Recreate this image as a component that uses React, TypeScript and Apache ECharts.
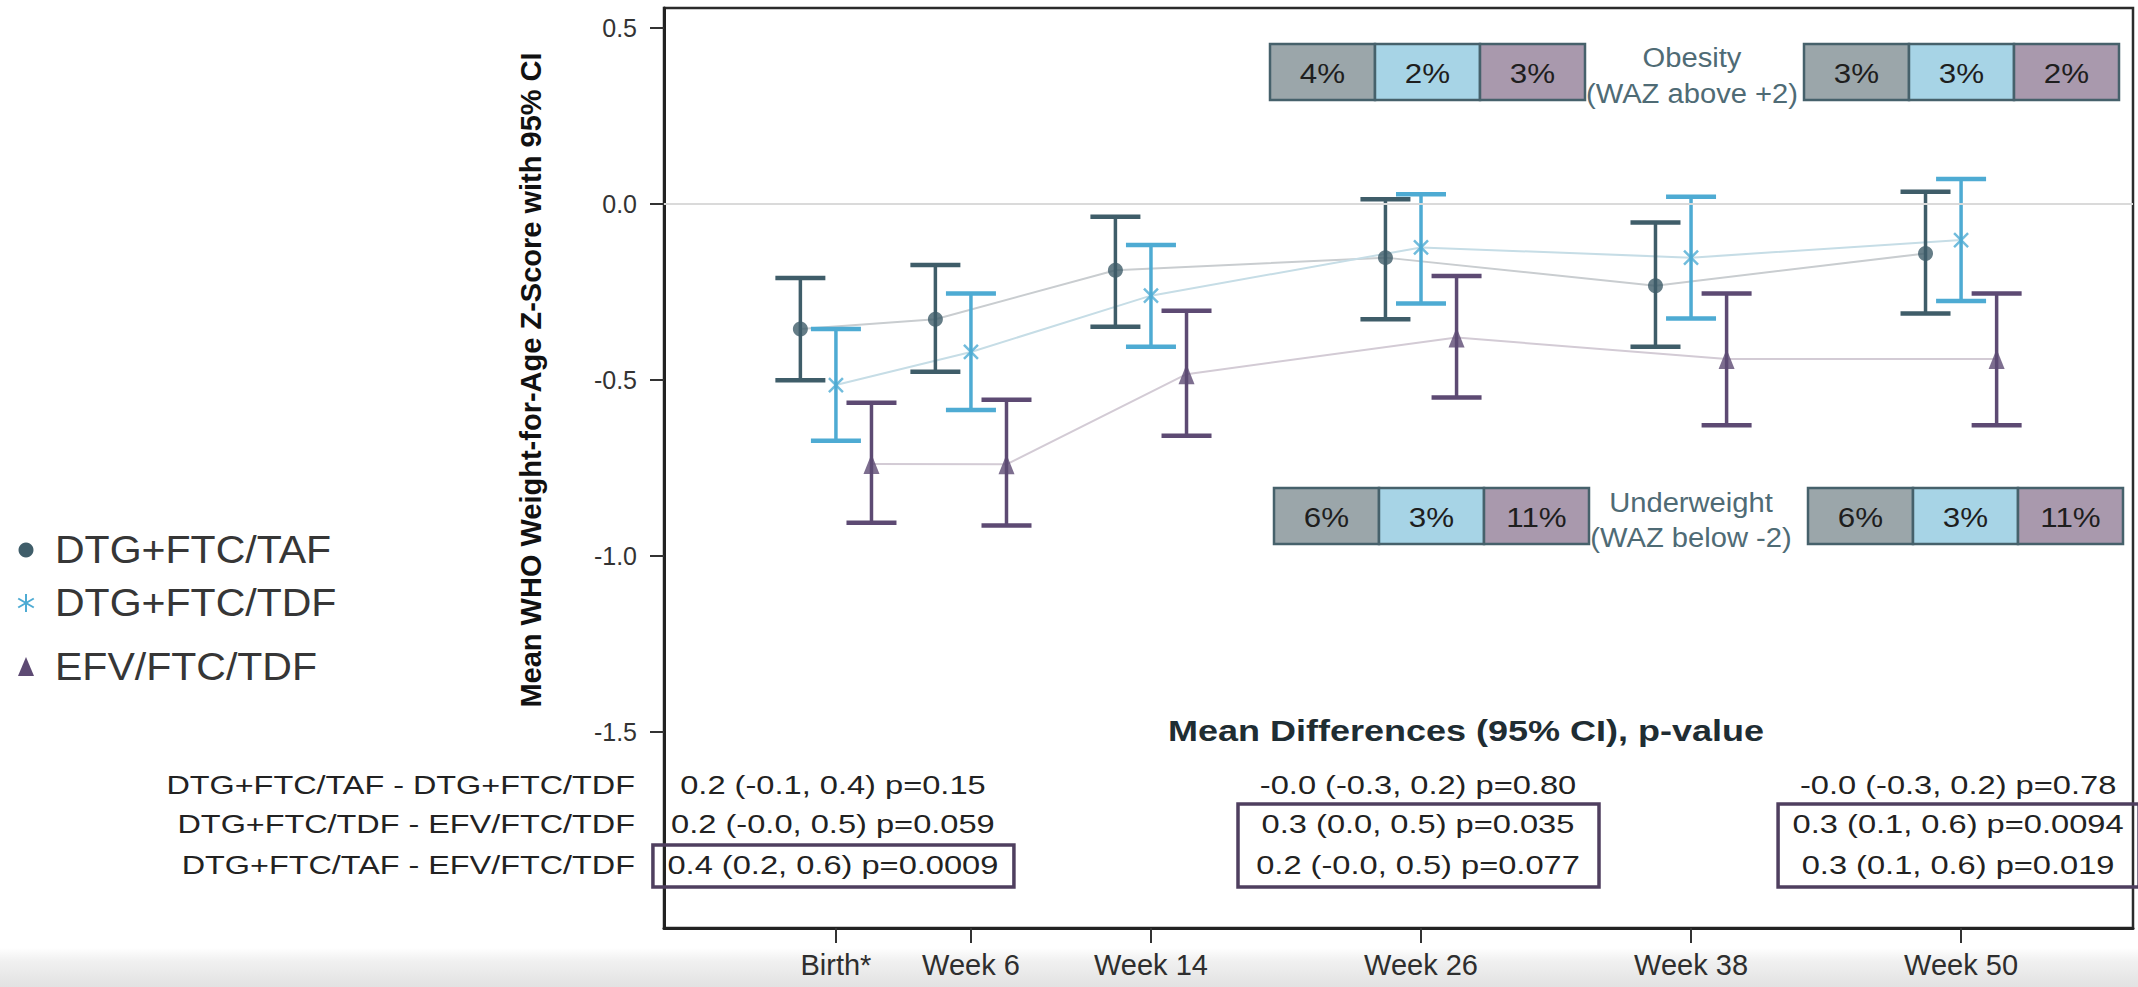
import React, { useEffect, useRef } from 'react';
import * as echarts from 'echarts';

// ---------------- data ----------------
const weeks = [0, 6, 14, 26, 38, 50];
const weekLabels = ['Birth*', 'Week 6', 'Week 14', 'Week 26', 'Week 38', 'Week 50'];
const seriesNames = ['DTG+FTC/TAF', 'DTG+FTC/TDF', 'EFV/FTC/TDF'];

const tafMean = [-0.355, -0.327, -0.188, -0.152, -0.232, -0.14];
const tafLower = [-0.5, -0.476, -0.348, -0.327, -0.405, -0.311];
const tafUpper = [-0.21, -0.173, -0.036, 0.014, -0.052, 0.035];

const tdfMean = [-0.514, -0.42, -0.26, -0.123, -0.152, -0.102];
const tdfLower = [-0.672, -0.585, -0.405, -0.282, -0.325, -0.275];
const tdfUpper = [-0.355, -0.254, -0.116, 0.028, 0.021, 0.071];

const efvMean = [-0.738, -0.739, -0.483, -0.379, -0.44, -0.44];
const efvLower = [-0.905, -0.913, -0.658, -0.549, -0.628, -0.628];
const efvUpper = [-0.564, -0.556, -0.303, -0.204, -0.254, -0.254];

const yTicks = [-1.5, -1.0, -0.5, 0, 0.5];

const obesityTitle = ['Obesity', '(WAZ above +2)'];
const obesityPct = [
  ['4%', '2%', '3%'],
  ['3%', '3%', '2%'],
];
const underweightTitle = ['Underweight', '(WAZ below -2)'];
const underweightPct = [
  ['6%', '3%', '11%'],
  ['6%', '3%', '11%'],
];

const diffTitle = 'Mean Differences (95% CI), p-value';
const diffLabels = [
  'DTG+FTC/TAF - DTG+FTC/TDF',
  'DTG+FTC/TDF - EFV/FTC/TDF',
  'DTG+FTC/TAF - EFV/FTC/TDF',
];
const diffWeeks = [0, 26, 50];
const diffValues = [
  ['0.2 (-0.1, 0.4) p=0.15', '0.2 (-0.0, 0.5) p=0.059', '0.4 (0.2, 0.6) p=0.0009'],
  ['-0.0 (-0.3, 0.2) p=0.80', '0.3 (0.0, 0.5) p=0.035', '0.2 (-0.0, 0.5) p=0.077'],
  ['-0.0 (-0.3, 0.2) p=0.78', '0.3 (0.1, 0.6) p=0.0094', '0.3 (0.1, 0.6) p=0.019'],
];
const diffBoxedRows = [[2], [1, 2], [1, 2]];

const yTitle = 'Mean WHO Weight-for-Age Z-Score with 95% CI';

// ---------------- styles ----------------
const FONT = '"Liberation Sans", Arial, sans-serif';
const C_TAF = '#3f5d69';
const C_TDF = '#4eabd3';
const C_EFV = '#5d4a73';
const L_TAF = '#c9cdd0';
const L_TDF = '#c6dde6';
const L_EFV = '#d3cbd5';
const F_TAF = '#9ba6aa';
const F_TDF = '#a7d4e6';
const F_EFV = '#a999ad';
const DODGE = 1.58;
const ASTER = 'path://M0,0L10,10M10,0L0,10';

const X_MIN = -7.64;
const X_MAX = 57.64;
const Y_MIN = -2.056;
const Y_MAX = 0.557;

function errorSeries(name: string, offset: number, lower: number[], upper: number[], color: string) {
  return {
    type: 'custom',
    name: name + ' CI',
    z: 3,
    silent: true,
    encode: { x: 0, y: [1, 2] },
    data: weeks.map((w, i) => [w + offset, lower[i], upper[i]]),
    renderItem: (params: any, api: any) => {
      const x = api.value(0);
      const pLo = api.coord([x, api.value(1)]);
      const pHi = api.coord([x, api.value(2)]);
      const hw = 25;
      return {
        type: 'group',
        children: [
          { type: 'line', shape: { x1: pLo[0], y1: pLo[1], x2: pHi[0], y2: pHi[1] }, style: { stroke: color, lineWidth: 3.5 } },
          { type: 'line', shape: { x1: pLo[0] - hw, y1: pLo[1], x2: pLo[0] + hw, y2: pLo[1] }, style: { stroke: color, lineWidth: 4.5 } },
          { type: 'line', shape: { x1: pHi[0] - hw, y1: pHi[1], x2: pHi[0] + hw, y2: pHi[1] }, style: { stroke: color, lineWidth: 4.5 } },
        ],
      };
    },
  };
}

function lineSeries(name: string, offset: number, mean: number[], color: string, extra: any = {}) {
  return {
    type: 'line',
    name: name + ' line',
    z: 1,
    silent: true,
    showSymbol: false,
    symbol: 'none',
    data: weeks.map((w, i) => [w + offset, mean[i]]),
    lineStyle: { color, width: 2 },
    ...extra,
  };
}

function text(x: number, y: number, t: string, size: number, opts: any = {}) {
  const { scaleX = 1, align = 'center', weight = 'normal', fill = '#2a2a2a', rotation = 0, z = 10 } = opts;
  return {
    type: 'text',
    x,
    y,
    scaleX,
    rotation,
    z,
    silent: true,
    style: {
      text: t,
      fontSize: size,
      fontFamily: FONT,
      fontWeight: weight,
      fill,
      align,
      verticalAlign: 'middle',
    },
  };
}

function pctTable(left: number, top: number, values: string[]) {
  const cw = 105;
  const ch = 56;
  const fills = [F_TAF, F_TDF, F_EFV];
  const out: any[] = [];
  values.forEach((v, i) => {
    out.push({
      type: 'rect',
      z: 8,
      silent: true,
      shape: { x: left + i * cw, y: top, width: cw, height: ch },
      style: { fill: fills[i], stroke: '#46616b', lineWidth: 2.5 },
    });
    out.push(text(left + i * cw + cw / 2, top + ch / 2 + 1, v, 28, { scaleX: 1.12, fill: '#1e1e1e' }));
  });
  return out;
}

export default function App() {
  const ref = useRef<HTMLDivElement>(null);

  useEffect(() => {
    if (!ref.current) return;
    const chart = echarts.init(ref.current, undefined, { renderer: 'svg' });

    const option: any = {
      animation: false,
      backgroundColor: '#ffffff',
      grid: {
        left: 664,
        top: 8,
        right: 5,
        bottom: 59,
        show: true,
        borderColor: '#2b2b2b',
        borderWidth: 2.5,
        backgroundColor: 'transparent',
      },
      xAxis: {
        type: 'value',
        min: X_MIN,
        max: X_MAX,
        axisLine: { show: true, onZero: false, lineStyle: { color: '#222', width: 3 } },
        axisTick: { show: true, customValues: weeks, length: 15, lineStyle: { color: '#333', width: 2 } },
        axisLabel: {
          show: true,
          customValues: weeks,
          margin: 22,
          fontSize: 29,
          fontFamily: FONT,
          color: '#2e2e2e',
          formatter: (v: number) => {
            const i = weeks.indexOf(Math.round(v));
            return i >= 0 ? weekLabels[i] : '';
          },
        },
        splitLine: { show: false },
      },
      yAxis: {
        type: 'value',
        min: Y_MIN,
        max: Y_MAX,
        axisLine: { show: true, onZero: false, lineStyle: { color: '#222', width: 3 } },
        axisTick: { show: true, customValues: yTicks, length: 14, lineStyle: { color: '#333', width: 2 } },
        axisLabel: {
          show: true,
          customValues: yTicks,
          margin: 27,
          fontSize: 25,
          fontFamily: FONT,
          color: '#333',
          formatter: (v: number) => v.toFixed(1),
        },
        splitLine: { show: false },
      },
      series: [
        lineSeries(seriesNames[0], -DODGE, tafMean, L_TAF, {
          markLine: {
            silent: true,
            symbol: 'none',
            label: { show: false },
            lineStyle: { color: '#dadada', width: 2, type: 'solid' },
            data: [{ yAxis: 0 }],
          },
        }),
        lineSeries(seriesNames[1], 0, tdfMean, L_TDF),
        lineSeries(seriesNames[2], DODGE, efvMean, L_EFV),
        errorSeries(seriesNames[0], -DODGE, tafLower, tafUpper, C_TAF),
        errorSeries(seriesNames[1], 0, tdfLower, tdfUpper, C_TDF),
        errorSeries(seriesNames[2], DODGE, efvLower, efvUpper, C_EFV),
        {
          type: 'scatter',
          name: seriesNames[0],
          z: 5,
          symbol: 'circle',
          symbolSize: 15,
          itemStyle: { color: C_TAF },
          data: weeks.map((w, i) => [w - DODGE, tafMean[i]]),
        },
        {
          type: 'scatter',
          name: seriesNames[1],
          z: 5,
          symbol: ASTER,
          symbolSize: 14,
          itemStyle: { color: 'rgba(0,0,0,0)', borderColor: C_TDF, borderWidth: 2.5 },
          data: weeks.map((w, i) => [w, tdfMean[i]]),
        },
        {
          type: 'scatter',
          name: seriesNames[2],
          z: 5,
          symbol: 'triangle',
          symbolSize: [16, 20],
          itemStyle: { color: C_EFV },
          data: weeks.map((w, i) => [w + DODGE, efvMean[i]]),
        },
      ],
    };
    chart.setOption(option);

    const px = (w: number) => chart.convertToPixel({ xAxisIndex: 0 }, w) as number;

    const g: any[] = [];
    // bottom screenshot band
    g.push({
      type: 'rect',
      z: -1,
      silent: true,
      shape: { x: 0, y: 948, width: 2138, height: 39 },
      style: {
        fill: new echarts.graphic.LinearGradient(0, 0, 0, 1, [
          { offset: 0, color: 'rgba(238,238,238,0)' },
          { offset: 0.35, color: '#f0f0f0' },
          { offset: 1, color: '#e2e2e2' },
        ]),
      },
    });

    // y-axis title
    g.push(text(531, 380, yTitle, 29, { weight: 'bold', rotation: Math.PI / 2, fill: '#111' }));

    // legend
    const legY = [550, 603, 667];
    g.push({ type: 'circle', z: 10, silent: true, shape: { cx: 26, cy: legY[0], r: 7.5 }, style: { fill: C_TAF } });
    const ax = 26, ay = legY[1], ar = 9;
    [0, Math.PI / 3, (2 * Math.PI) / 3].forEach((a) => {
      g.push({
        type: 'line', z: 10, silent: true,
        shape: { x1: ax - ar * Math.cos(a + Math.PI / 2), y1: ay - ar * Math.sin(a + Math.PI / 2), x2: ax + ar * Math.cos(a + Math.PI / 2), y2: ay + ar * Math.sin(a + Math.PI / 2) },
        style: { stroke: C_TDF, lineWidth: 2 },
      });
    });
    g.push({
      type: 'polygon', z: 10, silent: true,
      shape: { points: [[26, legY[2] - 10], [18, legY[2] + 9], [34, legY[2] + 9]] },
      style: { fill: C_EFV },
    });
    seriesNames.forEach((n, i) => g.push(text(55, legY[i], n, 38, { align: 'left', scaleX: 1.08, fill: '#363636' })));

    // percent tables
    g.push(...pctTable(1270, 44, obesityPct[0]));
    g.push(...pctTable(1804, 44, obesityPct[1]));
    g.push(...pctTable(1274, 488, underweightPct[0]));
    g.push(...pctTable(1808, 488, underweightPct[1]));
    g.push(text(1692, 58, obesityTitle[0], 27, { scaleX: 1.08, fill: '#4f6b75' }));
    g.push(text(1692, 94, obesityTitle[1], 27, { scaleX: 1.08, fill: '#4f6b75' }));
    g.push(text(1691, 503, underweightTitle[0], 27, { scaleX: 1.08, fill: '#4f6b75' }));
    g.push(text(1691, 538, underweightTitle[1], 27, { scaleX: 1.08, fill: '#4f6b75' }));

    // differences table
    g.push(text(1466, 731, diffTitle, 30, { weight: 'bold', scaleX: 1.2, fill: '#1f2d33' }));
    const rowY = [785, 824, 865];
    diffLabels.forEach((l, r) => g.push(text(635, rowY[r], l, 25.5, { align: 'right', scaleX: 1.27, fill: '#222' })));
    diffWeeks.forEach((w, c) => {
      const cx = px(w) - 3;
      diffValues[c].forEach((v, r) => g.push(text(cx, rowY[r], v, 25.5, { scaleX: 1.28, fill: '#222' })));
      const rows = diffBoxedRows[c];
      const r0 = Math.min(...rows);
      const r1 = Math.max(...rows);
      const top = rowY[r0] - 20;
      const bottom = rowY[r1] + 22;
      g.push({
        type: 'rect', z: 9, silent: true,
        shape: { x: cx - 180, y: top, width: 361, height: bottom - top },
        style: { fill: 'none', stroke: '#4f3f5f', lineWidth: 3.5 },
      });
    });

    chart.setOption({ graphic: g });

    return () => chart.dispose();
  }, []);

  return <div ref={ref} style={{ position: 'fixed', left: 0, top: 0, width: 2138, height: 987 }} />;
}
